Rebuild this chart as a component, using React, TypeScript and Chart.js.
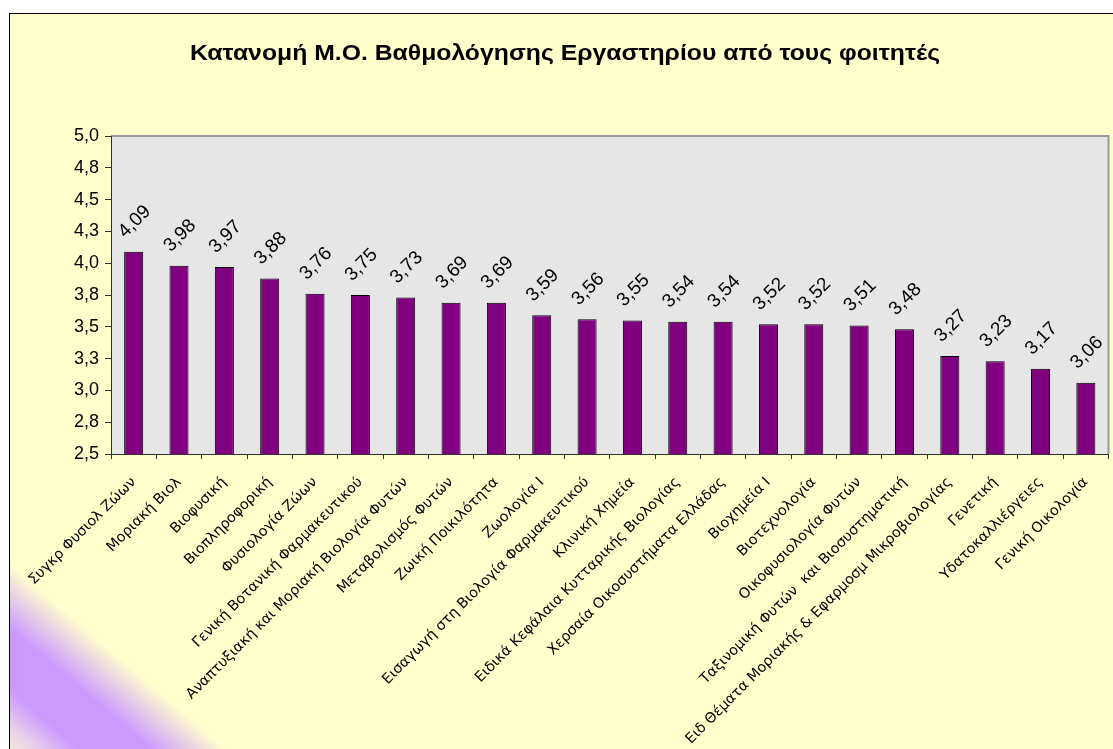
import React, { useEffect, useRef } from 'react';
import { Chart, registerables } from 'chart.js';

Chart.register(...registerables);

const TITLE = 'Κατανομή Μ.Ο. Βαθμολόγησης Εργαστηρίου από τους φοιτητές';

const categories = [
  'Συγκρ Φυσιολ Ζώων',
  'Μοριακή Βιολ',
  'Βιοφυσική',
  'Βιοπληροφορική',
  'Φυσιολογία Ζώων',
  'Γενική Βοτανική Φαρμακευτικού',
  'Αναπτυξιακή και Μοριακή Βιολογία Φυτών',
  'Μεταβολισμός Φυτών',
  'Ζωική Ποικιλότητα',
  'Ζωολογία Ι',
  'Εισαγωγή στη Βιολογία Φαρμακευτικού',
  'Κλινική Χημεία',
  'Ειδικά Κεφάλαια Κυτταρικής Βιολογίας',
  'Χερσαία Οικοσυστήματα Ελλάδας',
  'Βιοχημεία Ι',
  'Βιοτεχνολογία',
  'Οικοφυσιολογία Φυτών',
  'Ταξινομική Φυτών  και Βιοσυστηματική',
  'Ειδ Θέματα Μοριακής & Εφαρμοσμ Μικροβιολογίας',
  'Γενετική',
  'Υδατοκαλλιέργειες',
  'Γενική Οικολογία',
];

const values = [
  4.09, 3.98, 3.97, 3.88, 3.76, 3.75, 3.73, 3.69, 3.69, 3.59, 3.56,
  3.55, 3.54, 3.54, 3.52, 3.52, 3.51, 3.48, 3.27, 3.23, 3.17, 3.06,
];

const valueLabels = [
  '4,09', '3,98', '3,97', '3,88', '3,76', '3,75', '3,73', '3,69', '3,69', '3,59', '3,56',
  '3,55', '3,54', '3,54', '3,52', '3,52', '3,51', '3,48', '3,27', '3,23', '3,17', '3,06',
];

const yTickLabels = ['2,5', '2,8', '3,0', '3,3', '3,5', '3,8', '4,0', '4,3', '4,5', '4,8', '5,0'];

const Y_MIN = 2.5;
const Y_MAX = 5.0;
const Y_STEP = 0.25;

const CANVAS_W = 1103;
const CANVAS_H = 735;

const backgroundPlugin = {
  id: 'bgPlugin',
  beforeDraw(chart: any) {
    const { ctx, chartArea } = chart;
    ctx.save();
    const x0 = -1, y0 = CANVAS_H;
    const L = 300;
    const nx = 0.65, ny = -0.76;
    const g = ctx.createLinearGradient(x0, y0, x0 + nx * L, y0 + ny * L);
    g.addColorStop(0, 'rgb(244,234,220)');
    g.addColorStop(18 / L, 'rgb(232,208,234)');
    g.addColorStop(46 / L, '#CC99FF');
    g.addColorStop(92 / L, '#CC99FF');
    g.addColorStop(142 / L, '#FFFFCC');
    g.addColorStop(1, '#FFFFCC');
    ctx.fillStyle = g;
    ctx.fillRect(0, 0, CANVAS_W, CANVAS_H);
    ctx.fillStyle = '#E6E6E6';
    ctx.fillRect(chartArea.left, chartArea.top, chartArea.right - chartArea.left, chartArea.bottom - chartArea.top);
    ctx.strokeStyle = '#9A9A9A';
    ctx.lineWidth = 2;
    ctx.beginPath();
    ctx.moveTo(chartArea.left, chartArea.top);
    ctx.lineTo(chartArea.right, chartArea.top);
    ctx.lineTo(chartArea.right, chartArea.bottom);
    ctx.stroke();
    // title
    ctx.fillStyle = '#000';
    ctx.font = 'bold 22px "Liberation Sans", Arial, sans-serif';
    ctx.textAlign = 'center';
    ctx.textBaseline = 'middle';
    const w = ctx.measureText(TITLE).width;
    ctx.translate(555, 40);
    ctx.scale(750 / w, 1);
    ctx.fillText(TITLE, 0, 0);
    ctx.restore();
  },
};

const valueLabelPlugin = {
  id: 'valueLabels',
  afterDatasetsDraw(chart: any) {
    const { ctx } = chart;
    const meta = chart.getDatasetMeta(0);
    ctx.save();
    ctx.fillStyle = '#000';
    ctx.font = '19px "Liberation Sans", Arial, sans-serif';
    ctx.textAlign = 'center';
    ctx.textBaseline = 'middle';
    meta.data.forEach((bar: any, i: number) => {
      ctx.save();
      ctx.translate(bar.x + 1, bar.y - 30);
      ctx.rotate(-Math.PI / 4);
      ctx.fillText(valueLabels[i], 0, 0);
      ctx.restore();
    });
    ctx.restore();
  },
};

export default function App() {
  const canvasRef = useRef<HTMLCanvasElement | null>(null);

  useEffect(() => {
    const canvas = canvasRef.current;
    if (!canvas) return;
    const chart = new Chart(canvas, {
      type: 'bar',
      data: {
        labels: categories,
        datasets: [
          {
            data: values,
            backgroundColor: '#800080',
            borderColor: '#000000',
            borderWidth: 1,
            categoryPercentage: 1,
            barPercentage: 0.42,
          },
        ],
      },
      options: {
        responsive: false,
        animation: false,
        devicePixelRatio: 1,
        layout: { padding: { top: 122, right: 1, left: 0, bottom: 0 } },
        plugins: {
          legend: { display: false },
          title: { display: false },
          tooltip: { enabled: false },
        },
        scales: {
          x: {
            afterFit(scale: any) {
              scale.height = CANVAS_H - 122 - 318;
            },
            grid: {
              offset: true,
              drawOnChartArea: false,
              drawTicks: true,
              tickLength: 5,
              color: '#333333',
            },
            border: { color: '#333333', width: 1 },
            ticks: {
              autoSkip: false,
              maxRotation: 45,
              minRotation: 45,
              padding: 15,
              color: '#000',
              font: { family: '"DejaVu Sans", sans-serif', size: 14.3 },
            },
          },
          y: {
            min: Y_MIN,
            max: Y_MAX,
            afterFit(scale: any) {
              scale.width = 101;
            },
            grid: {
              drawOnChartArea: false,
              drawTicks: true,
              tickLength: 6,
              color: '#333333',
            },
            border: { color: '#333333', width: 1 },
            ticks: {
              stepSize: Y_STEP,
              padding: 6,
              color: '#000',
              font: { family: '"Liberation Sans", Arial, sans-serif', size: 18 },
              callback: (_v: any, i: number) => yTickLabels[i],
            },
          },
        },
      },
      plugins: [backgroundPlugin, valueLabelPlugin],
    });
    return () => chart.destroy();
  }, []);

  return (
    <div style={{ position: 'fixed', left: 0, top: 0, width: 1113, height: 749, overflow: 'hidden', background: '#fff' }}>
      <div
        style={{
          position: 'absolute',
          left: 9,
          top: 13,
          width: 1120,
          height: 760,
          border: '1px solid #000',
          boxSizing: 'border-box',
        }}
      />
      <canvas
        ref={canvasRef}
        width={CANVAS_W}
        height={CANVAS_H}
        style={{ position: 'absolute', left: 10, top: 14, width: CANVAS_W, height: CANVAS_H }}
      />
    </div>
  );
}
